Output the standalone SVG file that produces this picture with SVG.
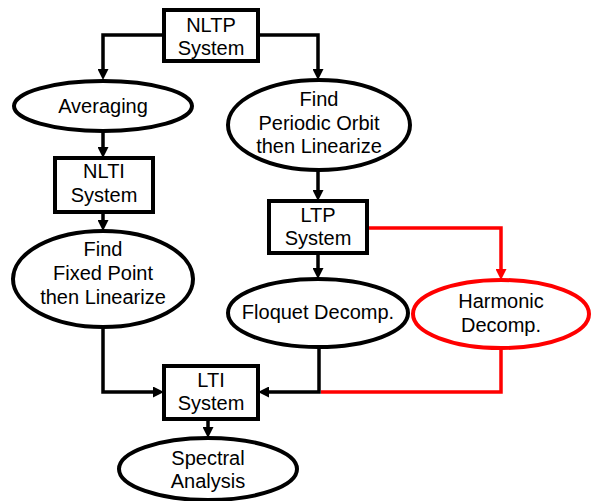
<svg xmlns="http://www.w3.org/2000/svg" width="595" height="501" viewBox="0 0 595 501">
  <defs>
    <style>
      .box { fill: #ffffff; stroke: #000000; stroke-width: 4; }
      .oval { fill: #ffffff; stroke: #000000; stroke-width: 4; }
      .oval.red { stroke: #ff0000; }
      .label { font-family: "Liberation Sans", Arial, Helvetica, sans-serif; font-size: 20px; fill: #000000; text-anchor: middle; }
      .wire { fill: none; stroke: #000000; stroke-width: 3.5; stroke-linejoin: miter; }
      .wire.red { stroke: #ff0000; }
    </style>
    <marker id="arrow" viewBox="0 0 11 11" markerWidth="11" markerHeight="11" refX="1" refY="5.5" orient="auto" markerUnits="userSpaceOnUse">
      <path d="M0,0 L11,5.5 L0,11 z" fill="#000000"/>
    </marker>
    <marker id="arrow-red" viewBox="0 0 11 11" markerWidth="11" markerHeight="11" refX="1" refY="5.5" orient="auto" markerUnits="userSpaceOnUse">
      <path d="M0,0 L11,5.5 L0,11 z" fill="#ff0000"/>
    </marker>
  </defs>

  <rect width="595" height="501" fill="#ffffff"/>

  <!-- connectors -->
  <g id="connectors">
    <path class="wire" d="M164,35 H103 V70" marker-end="url(#arrow)"/>
    <path class="wire" d="M258,35 H318 V70" marker-end="url(#arrow)"/>
    <path class="wire" d="M103,131 V148" marker-end="url(#arrow)"/>
    <path class="wire" d="M103,212 V221" marker-end="url(#arrow)"/>
    <path class="wire" d="M318,170 V191" marker-end="url(#arrow)"/>
    <path class="wire" d="M318,253 V269" marker-end="url(#arrow)"/>
    <path class="wire red" d="M367,228 H501 V270" marker-end="url(#arrow-red)"/>
    <path class="wire" d="M103,327 V392 H154" marker-end="url(#arrow)"/>
    <path class="wire" d="M319,347 V392 H268" marker-end="url(#arrow)"/>
    <path class="wire red" d="M501,347 V392 H321"/>
    <path class="wire" d="M208,419 V428" marker-end="url(#arrow)"/>
  </g>

  <!-- nodes -->
  <g id="nltp">
    <rect class="box" x="164" y="10" width="94" height="51"/>
    <text class="label" x="211" y="32">NLTP</text>
    <text class="label" x="211" y="55">System</text>
  </g>

  <g id="averaging">
    <ellipse class="oval" cx="103" cy="106" rx="89" ry="25"/>
    <text class="label" x="103" y="113">Averaging</text>
  </g>

  <g id="periodic-orbit">
    <ellipse class="oval" cx="319" cy="125" rx="91" ry="45"/>
    <text class="label" x="319" y="106">Find</text>
    <text class="label" x="319" y="130">Periodic Orbit</text>
    <text class="label" x="319" y="153">then Linearize</text>
  </g>

  <g id="nlti">
    <rect class="box" x="55" y="158" width="98" height="54"/>
    <text class="label" x="104" y="178">NLTI</text>
    <text class="label" x="104" y="202">System</text>
  </g>

  <g id="fixed-point">
    <ellipse class="oval" cx="103" cy="279" rx="90" ry="48"/>
    <text class="label" x="103" y="256">Find</text>
    <text class="label" x="103" y="280">Fixed Point</text>
    <text class="label" x="103" y="304">then Linearize</text>
  </g>

  <g id="ltp">
    <rect class="box" x="269" y="201" width="98" height="52"/>
    <text class="label" x="318" y="222">LTP</text>
    <text class="label" x="318" y="245">System</text>
  </g>

  <g id="floquet">
    <ellipse class="oval" cx="318" cy="313" rx="90" ry="34"/>
    <text class="label" x="318" y="319">Floquet Decomp.</text>
  </g>

  <g id="harmonic">
    <ellipse class="oval red" cx="501" cy="314" rx="88" ry="34"/>
    <text class="label" x="501" y="308">Harmonic</text>
    <text class="label" x="501" y="332">Decomp.</text>
  </g>

  <g id="lti">
    <rect class="box" x="164" y="366" width="94" height="53"/>
    <text class="label" x="211" y="387">LTI</text>
    <text class="label" x="211" y="410">System</text>
  </g>

  <g id="spectral">
    <ellipse class="oval" cx="208" cy="469" rx="89" ry="31"/>
    <text class="label" x="208" y="465">Spectral</text>
    <text class="label" x="208" y="488">Analysis</text>
  </g>
</svg>
